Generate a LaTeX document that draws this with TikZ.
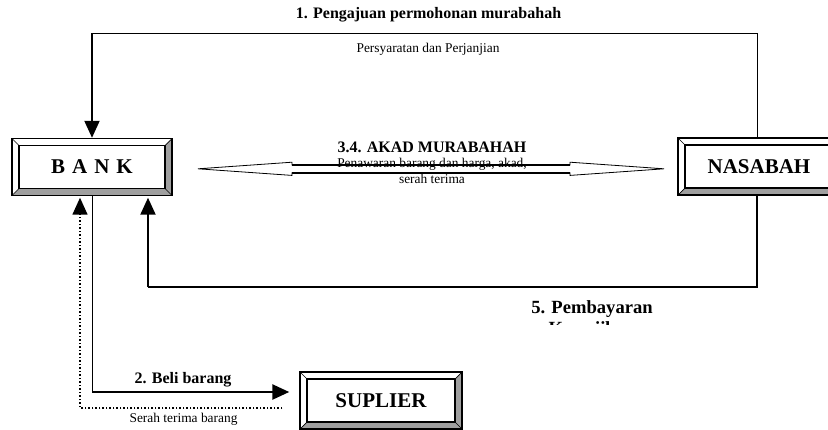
\documentclass[tikz,border=0pt]{standalone}
\usepackage{fontspec}
\setmainfont{Liberation Serif}
\usetikzlibrary{arrows.meta,calc}

\begin{document}
\begin{tikzpicture}[x=1pt,y=-1pt,
	>={Triangle[length=17pt,width=15pt]},
	lbl/.style={font=\fontsize{13.4}{16}\selectfont, inner sep=0pt},
	blbl/.style={font=\bfseries\fontsize{16}{19}\selectfont, inner sep=0pt},
	bevelbox/.style={draw, line width=1.4pt, minimum width=160pt, minimum height=57pt, inner sep=0pt,
		font=\bfseries\fontsize{21}{24}\selectfont,
		path picture={
			\coordinate (pa) at (path picture bounding box.south west);
			\coordinate (pb) at (path picture bounding box.south east);
			\coordinate (pc) at (path picture bounding box.north east);
			\coordinate (pd) at (path picture bounding box.north west);
			\fill[gray!75] (pa) -- (pb) -- (pc) -- ([shift={(-7pt,-7pt)}]pc) -- ([shift={(-7pt,7pt)}]pb) -- ([shift={(7pt,7pt)}]pa) -- cycle;
			\draw[line width=1.1pt] ([shift={(7pt,7pt)}]pa) rectangle ([shift={(-7pt,-7pt)}]pc);
			\draw[line width=0.7pt] (pa) -- ++(7pt,7pt) (pb) -- ++(-7pt,7pt) (pc) -- ++(-7pt,-7pt) (pd) -- ++(7pt,-7pt);
		}}]
	\useasboundingbox (0,0) rectangle (828,429);
	\clip (0,0) rectangle (828,429);

	\node[bevelbox] (bank) at (92,167) {B\,\,A\,\,N\,\,K};
	\node[bevelbox, minimum width=162pt] (nasabah) at (759,166.5) {NASABAH};
	\node[bevelbox, minimum width=162pt] (suplier) at (381,400.5) {SUPLIER};

	\coordinate (tr) at (757,33);
	\coordinate (tl) at (92,33);
	\draw[line width=1pt] (nasabah.north -| tr) -- (tr) -- (tl);
	\draw[line width=2pt,->] (tl) -- (bank.north);
	\node[blbl, anchor=base] (t1) at (428.5,18.5) {1. Pengajuan permohonan murabahah};
	\node[lbl, anchor=base] (t1b) at (428,52) {Persyaratan dan Perjanjian};

	\coordinate (al) at (198,168.8);
	\coordinate (ar) at (664,168.8);
	\draw[line width=0.8pt] (al) -- ++(94,-6.6) -- ++(0,2.7) -- ($(ar)+(-94,-3.9)$) -- ++(0,-2.7) -- (ar) -- ++(-94,6.6) -- ++(0,-2.7) -- ($(al)+(94,3.9)$) -- ++(0,2.7) -- cycle;
	\draw[line width=1.6pt] ($(al)+(94,-3.9)$) -- ($(ar)+(-94,-3.9)$) ($(al)+(94,3.9)$) -- ($(ar)+(-94,3.9)$);
	\node[blbl, anchor=base] (t3) at (432,152) {3.4. AKAD MURABAHAH};
	\node[lbl, align=center, anchor=north] (t3b) at (432,158) {Penawaran barang dan harga, akad,\\serah terima};

	\coordinate (br) at (757,287);
	\coordinate (bl) at (148,287);
	\draw[line width=1.3pt] (nasabah.south -| br) -- (br) -- (bl);
	\draw[line width=2pt,->,shorten >=1.5pt] (bl) -- (bank.south -| bl);
	\begin{scope}
		\clip (470,292) rectangle (720,324.5);
		\node[font=\bfseries\fontsize{18.6}{21}\selectfont, align=center, anchor=north, inner sep=0pt] (t5) at (592,300.5) {5. Pembayaran\\Kewajiban};
	\end{scope}

	\coordinate (bb) at (92,392);
	\draw[line width=1pt] (bank.south) -- (bb);
	\draw[line width=2.5pt,->,shorten >=10pt] (bb) -- (suplier.west |- bb);
	\node[blbl, anchor=base] (t2) at (183,383) {2. Beli barang};

	\coordinate (db) at (80,408);
	\draw[line width=1.5pt,dotted,->,shorten >=1.5pt] ([xshift=-17pt]suplier.west |- db) -- (db) -- (bank.south -| db);
	\node[lbl, anchor=base] (t2b) at (183.5,422) {Serah terima barang};
\end{tikzpicture}
\end{document}
